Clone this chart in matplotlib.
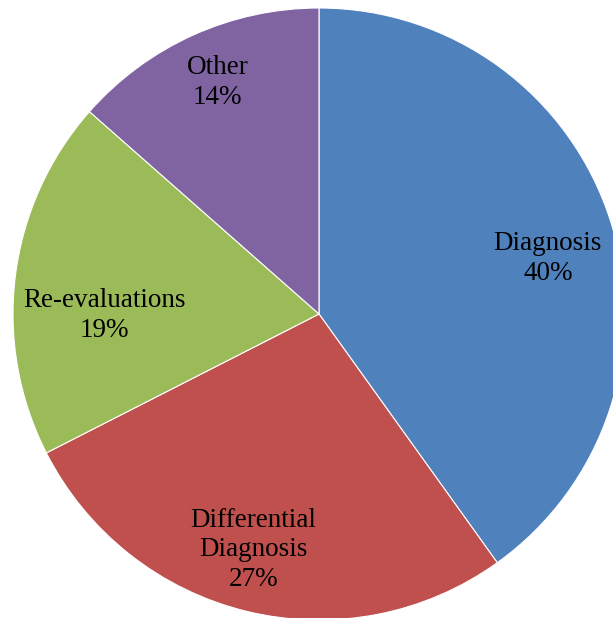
import matplotlib
matplotlib.use("Agg")
import matplotlib.pyplot as plt
import numpy as np

categories = ["Diagnosis", "Differential\nDiagnosis", "Re-evaluations", "Other"]
values = [40.1, 27.4, 19.0, 13.5]
colors = ["#4F81BD", "#C0504D", "#9BBB59", "#8064A2"]
# label placement (angle in degrees, distance as fraction of radius)
label_angles = [13.7, -105.6, 180.5, 113.7]
label_dists = [0.77, 0.80, 0.70, 0.825]

W, H = 613, 618
fig = plt.figure(figsize=(W / 100, H / 100), dpi=100)
cx, cy, r = 319, 618 - 314, 306
ax = fig.add_axes([(cx - r) / W, (cy - r) / H, 2 * r / W, 2 * r / H])
ax.pie(values, colors=colors, startangle=90, counterclock=False, radius=1,
       wedgeprops=dict(edgecolor="white", linewidth=0.8))
ax.set_xlim(-1, 1)
ax.set_ylim(-1, 1)
ax.set_aspect("equal")
ax.axis("off")

for cat, v, a, d in zip(categories, values, label_angles, label_dists):
    x = d * np.cos(np.radians(a))
    y = d * np.sin(np.radians(a))
    ax.text(x, y, f"{cat}\n{v:.0f}%", ha="center", va="center",
            fontsize=19.5, family="Liberation Serif", linespacing=1.25)

fig.savefig("out.png", dpi=100)
